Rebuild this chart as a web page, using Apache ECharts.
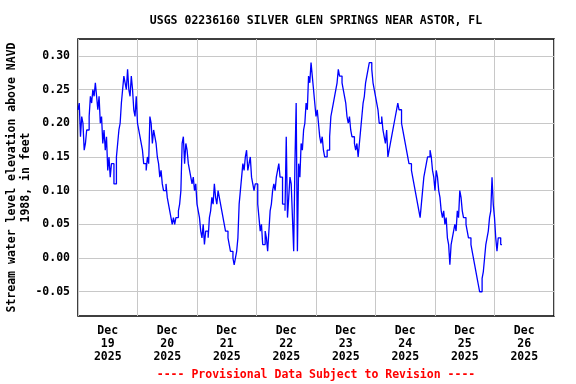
<!DOCTYPE html>
<html><head><meta charset="utf-8">
<script src="https://cdn.jsdelivr.net/npm/echarts@6/dist/echarts.min.js"></script>
<style>html,body{margin:0;padding:0;background:#fff}#c{width:576px;height:384px}</style>
</head><body><div id="c"></div>
<script>
// hours since Dec 19 2025 00:00, one value per half hour (ft above NAVD 1988)
const startHour = 0;
const stepHours = 0.5;
const level = [
  // Dec 19
  0.22,0.23,0.18,0.21,0.20,0.16,0.17,0.19,0.19,0.21,0.24,0.23,0.25,0.24,0.26,0.24,
  0.22,0.24,0.20,0.21,0.17,0.19,0.16,0.18,0.13,0.15,0.12,0.14,0.14,0.11,0.11,0.15,
  0.17,0.19,0.20,0.23,0.25,0.27,0.26,0.25,0.28,0.25,0.24,0.27,0.25,0.22,0.21,0.24,
  // Dec 20
  0.20,0.19,0.18,0.17,0.16,0.14,0.14,0.13,0.15,0.14,0.21,0.20,0.17,0.19,0.18,0.17,
  0.15,0.14,0.12,0.13,0.11,0.10,0.10,0.11,0.09,0.08,0.07,0.06,0.05,0.06,0.05,0.06,
  0.06,0.07,0.08,0.10,0.17,0.18,0.14,0.17,0.16,0.14,0.13,0.12,0.11,0.12,0.10,0.11,
  // Dec 21
  0.08,0.07,0.06,0.04,0.03,0.05,0.02,0.04,0.04,0.03,0.06,0.07,0.09,0.08,0.11,0.09,
  0.08,0.10,0.09,0.08,0.07,0.06,0.05,0.04,0.04,0.03,0.02,0.01,0.01,0.00,-0.01,0.00,
  0.01,0.03,0.08,0.10,0.12,0.14,0.13,0.15,0.16,0.13,0.14,0.15,0.12,0.11,0.10,0.11,
  // Dec 22
  0.11,0.08,0.06,0.04,0.05,0.02,0.02,0.04,0.03,0.01,0.04,0.07,0.08,0.10,0.11,0.10,
  0.12,0.13,0.14,0.12,0.12,0.08,0.08,0.07,0.18,0.06,0.09,0.12,0.11,0.06,0.01,0.14,
  0.23,0.01,0.14,0.12,0.17,0.16,0.19,0.20,0.23,0.22,0.27,0.26,0.29,0.27,0.25,0.23,
  // Dec 23
  0.21,0.22,0.20,0.18,0.17,0.18,0.16,0.15,0.15,0.16,0.16,0.18,0.21,0.22,0.23,0.24,
  0.25,0.26,0.28,0.27,0.27,0.26,0.25,0.24,0.23,0.21,0.20,0.21,0.19,0.18,0.18,0.17,
  0.16,0.17,0.15,0.17,0.19,0.21,0.23,0.24,0.26,0.27,0.28,0.29,0.29,0.28,0.26,0.25,
  // Dec 24
  0.24,0.23,0.22,0.20,0.20,0.21,0.19,0.18,0.17,0.19,0.15,0.16,0.17,0.18,0.19,0.20,
  0.21,0.22,0.23,0.22,0.22,0.20,0.19,0.18,0.17,0.16,0.15,0.14,0.14,0.13,0.12,0.11,
  0.10,0.09,0.08,0.07,0.06,0.08,0.10,0.12,0.13,0.14,0.15,0.15,0.16,0.15,0.13,0.12,
  // Dec 25
  0.10,0.13,0.12,0.10,0.09,0.07,0.06,0.07,0.05,0.06,0.03,0.02,-0.01,0.02,0.03,0.04,
  0.05,0.04,0.07,0.06,0.10,0.09,0.07,0.06,0.06,0.05,0.04,0.03,0.03,0.02,0.01,0.00,
  -0.01,-0.02,-0.03,-0.04,-0.05,-0.05,-0.03,-0.02,0.00,0.02,0.03,0.04,0.06,0.07,0.12,0.08,
  // Dec 26
  0.06,0.03,0.01,0.03,0.03,0.02,0.02
];
const dayLabels = ['Dec\n19\n2025','Dec\n20\n2025','Dec\n21\n2025','Dec\n22\n2025',
                   'Dec\n23\n2025','Dec\n24\n2025','Dec\n25\n2025','Dec\n26\n2025'];
const yTicks = [-0.05,0.00,0.05,0.10,0.15,0.20,0.25,0.30];
const titleText = 'USGS 02236160 SILVER GLEN SPRINGS NEAR ASTOR, FL';
const noteText = '---- Provisional Data Subject to Revision ----';
const yName = 'Stream water level elevation above NAVD\n1988, in feet';

const data = level.map((v,i)=>[startHour + i*stepHours, v]);
const labelHours = dayLabels.map((_,i)=>12 + 24*i);
const FONT = 'DejaVu Sans Mono';

const chart = echarts.init(document.getElementById('c'), null, {renderer:'canvas'});
chart.setOption({
  animation:false,
  backgroundColor:'#fff',
  grid:{left:78,right:22,top:39,bottom:68,outerBoundsMode:'none',containLabel:false,
        show:true,borderColor:'#000',borderWidth:1.5,backgroundColor:'transparent'},
  graphic:[
    {type:'text',x:316,y:21,style:{text:titleText,fontFamily:FONT,fontWeight:'bold',fontSize:11.5,fill:'#000',align:'center',verticalAlign:'middle'}},
    {type:'text',x:316,y:375,style:{text:noteText,fontFamily:FONT,fontWeight:'bold',fontSize:11.5,fill:'#ff0000',align:'center',verticalAlign:'middle'}}
  ],
  xAxis:{
    type:'value',min:0,max:192,interval:24,
    axisLine:{show:false},axisTick:{show:false},
    splitLine:{show:true,lineStyle:{color:'#c8c8c8',width:1}},
    axisLabel:{customValues:labelHours,formatter:v=>dayLabels[Math.round((v-12)/24)],
      fontFamily:FONT,fontWeight:'bold',fontSize:11.5,color:'#000',lineHeight:13,margin:9}
  },
  yAxis:{
    type:'value',min:-0.086,max:0.325,
    axisLine:{show:false},
    axisTick:{show:false,customValues:yTicks},
    splitLine:{show:true,lineStyle:{color:'#c8c8c8',width:1}},
    axisLabel:{customValues:yTicks,formatter:v=>v.toFixed(2),fontFamily:FONT,fontWeight:'bold',fontSize:11.5,color:'#000',margin:8},
    name:yName,nameLocation:'middle',nameGap:45,nameMoveOverlap:false,
    nameTextStyle:{fontFamily:FONT,fontWeight:'bold',fontSize:11.5,color:'#000',lineHeight:14,align:'center'}
  },
  series:[{type:'line',data:data,step:'end',showSymbol:false,lineStyle:{color:'#0000ff',width:1.3},itemStyle:{color:'#0000ff'}}]
});
</script></body></html>
